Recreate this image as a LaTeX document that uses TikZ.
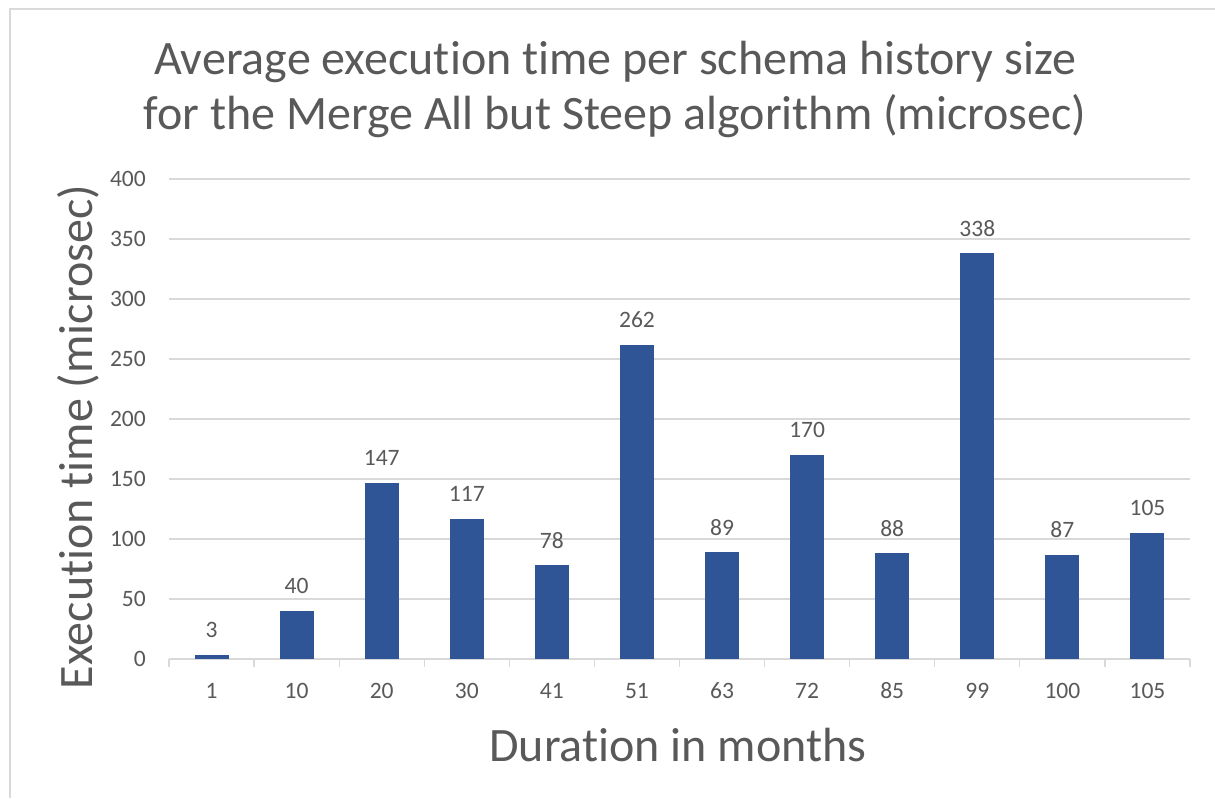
\documentclass[tikz,border=0pt]{standalone}
\usepackage{fontspec}
\setmainfont[Ligatures=NoCommon]{Carlito}
\definecolor{barblue}{HTML}{2F5597}
\definecolor{txtgray}{HTML}{595959}
\definecolor{gridgray}{HTML}{D9D9D9}
\begin{document}
\begin{tikzpicture}[x=1pt,y=-1pt,
  grid/.style={draw=gridgray,line width=1.3pt},
  bar/.style={fill=barblue,draw=none},
  ticklab/.style={text=txtgray,font=\fontsize{23.5}{26}\selectfont,inner sep=0pt},
  datalab/.style={text=txtgray,font=\fontsize{23.5}{26}\selectfont,inner sep=0pt},
  titlelab/.style={text=txtgray,font=\fontsize{48}{55}\selectfont,align=center,inner sep=0pt},
  axlab/.style={text=txtgray,font=\fontsize{48}{50}\selectfont,inner sep=0pt}]
\useasboundingbox (0,0) rectangle (1215,798);
\fill[white] (0,0) rectangle (1215,798);
\draw[gridgray,line width=1.3pt] (10,798) -- (10,9) -- (1215,9);
% gridlines and y labels
\foreach \v in {0,50,...,400} {
  \pgfmathsetmacro{\yy}{659-1.2*\v}
  \draw[grid] (169,\yy) -- (1190,\yy);
  \node[ticklab,anchor=east] (y\v) at (146,\yy) {\v};
}
% ticks
\foreach \i in {0,...,12} {
  \pgfmathsetmacro{\xx}{169+85.083*\i}
  \draw[grid] (\xx,659) -- (\xx,667);
}
% bars
\foreach [count=\i from 0] \lab/\val in {1/3,10/40,20/147,30/117,41/78,51/262,63/89,72/170,85/88,99/338,100/87,105/105} {
  \pgfmathsetmacro{\xc}{169+85.083*(\i+0.5)}
  \pgfmathsetmacro{\yt}{659-1.2*\val}
  \fill[bar] (\xc-17,659) rectangle (\xc+17,\yt);
  \node[datalab] (d\i) at (\xc,\yt-25) {\val};
  \node[ticklab] (x\i) at (\xc,691) {\lab};
}
\node[titlelab] (title) at (615,89) {Average execution time per schema history size\\for the Merge All but Steep algorithm (microsec)};
\node[axlab] (xtitle) at (678,745) {Duration in months};
\node[axlab,rotate=90] (ytitle) at (78,437) {Execution time (microsec)};
\end{tikzpicture}
\end{document}
